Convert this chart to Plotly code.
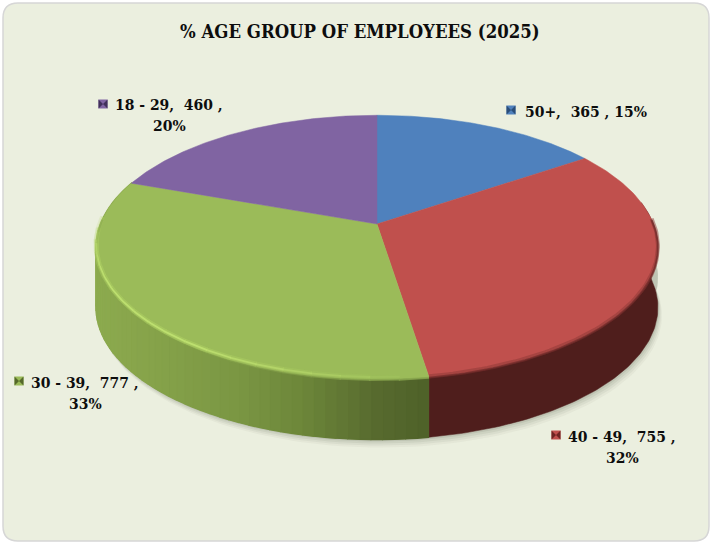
import numpy as np
import plotly.graph_objects as go

TITLE = "% AGE GROUP OF EMPLOYEES (2025)"
categories = ["50+", "40 - 49", "30 - 39", "18 - 29"]
values = [365, 755, 777, 460]
percents = [15, 32, 33, 20]
top_colors = ["#4f81bd", "#c0504d", "#9bbb59", "#8064a2"]
dark_key = ["#2a4d78", "#6e2523", "#55692a", "#41305a"]

# Projection of the tilted disc, in pixels of the axes
CX, CY, RX, A, C, DEPTH = 377.0, 224.0, 276.5, 128.0, 0.177, 60.0


def project(theta, depth=0.0):
    s = np.cos(theta)
    den = 1 + C * s
    return CX + RX * np.sin(theta) / den, CY - A * s / den + depth


total = sum(values)
edges = np.cumsum([0] + values) / total * 2 * np.pi

fig = go.Figure()
fig.add_shape(type="path", layer="below",
              path="M 18 3 L 694 3 Q 709 3 709 18 L 709 526 Q 709 541 694 541 "
                   "L 18 541 Q 3 541 3 526 L 3 18 Q 3 3 18 3 Z",
              fillcolor="#ebefdf", line=dict(color="#d6d6d6", width=1.5))


def poly(xs, ys, fill, line=None, width=0.0):
    fig.add_trace(go.Scatter(x=xs, y=ys, mode="lines", fill="toself", fillcolor=fill,
                             line=dict(color=line or fill, width=width),
                             hoverinfo="skip", showlegend=False))


def stroke(xs, ys, color, width):
    fig.add_trace(go.Scatter(x=xs, y=ys, mode="lines", line=dict(color=color, width=width),
                             hoverinfo="skip", showlegend=False))


# soft shadow under the wall
arc = np.linspace(np.radians(80), np.radians(285), 120)
for off, alpha in [(8, 0.05), (6, 0.07), (4, 0.09), (2, 0.12)]:
    xb, yb = project(arc, DEPTH)
    xt, yt = project(arc[::-1], DEPTH - 30)
    poly(np.r_[xb + off * 0.5, xt], np.r_[yb + off, yt], "rgba(90,100,80,%.2f)" % alpha)

# side wall
wall_a, wall_b = np.radians(80), np.radians(290)
th = np.linspace(wall_a, edges[2], 100)
xa, ya = project(th)
xb, yb = project(th[::-1], DEPTH)
poly(np.r_[xa, xb], np.r_[ya, yb], "#4f1e1c", "#4f1e1c", 0.5)

shade_x = [90, 150, 240, 300, 380, 430]
shade_g = [(141, 171, 79), (134, 163, 74), (122, 150, 67), (109, 135, 58), (86, 105, 46), (78, 97, 40)]
th = np.linspace(edges[2], wall_b, 100)
xa, ya = project(th)
xb, yb = project(th[::-1], DEPTH)
poly(np.r_[xa, xb], np.r_[ya, yb], "#7a9643", "#7a9643", 0.5)
n = 60
th = np.linspace(edges[2], wall_b, n + 1)
for i in range(n):
    tt = np.linspace(th[i], th[i + 1], 3)
    xa, ya = project(tt)
    xb, yb = project(tt[::-1], DEPTH)
    mx = float(xa[1])
    c = "rgb(%d,%d,%d)" % tuple(round(np.interp(mx, shade_x, [g[j] for g in shade_g])) for j in range(3))
    poly(np.r_[xa, xb], np.r_[ya, yb], c, c, 1.5)

# top face
for k, color in enumerate(top_colors):
    th = np.linspace(edges[k], edges[k + 1], 120)
    xs, ys = project(th)
    poly(np.r_[CX, xs, CX], np.r_[CY, ys, CY], color, color, 0.5)

# bevel highlights along the front of the rim, fading towards both ends
a0, a1 = edges[2], np.radians(272)
segs = np.linspace(a0, a1, 21)
for i in range(20):
    th = np.linspace(segs[i], segs[i + 1] + 0.003, 6)
    xs, ys = project(th)
    fade = min(1.0, i / 8, (20 - i) / 3)
    stroke(xs, ys - 2.5, "rgba(176,210,100,%.2f)" % (0.5 * fade), 5)
    stroke(xs, ys - 2.5, "rgba(190,224,112,%.2f)" % (0.95 * fade), 1.8)
    stroke(xs, ys + 0.5, "rgba(140,170,80,%.2f)" % (0.6 * (1 - fade) + 0.2), 2)
th = np.linspace(np.radians(88), edges[2], 80)
xs, ys = project(th)
stroke(xs, ys - 1, "rgba(140,56,54,0.5)", 4)
stroke(xs, ys + 0.5, "rgba(110,42,40,0.7)", 2)

# data labels
line_at = [[(586, 111)], [(622, 436), (622, 457)], [(85, 382), (85, 403)], [(169, 104), (169, 125)]]
key_at = [(511, 110), (556, 435), (19, 381), (103, 104)]
FONT = "DejaVu Serif Condensed, DejaVu Serif"
LABEL_SIZE = 15.5
for k, cat in enumerate(categories):
    fig.add_trace(go.Scatter(x=[key_at[k][0]], y=[key_at[k][1]], mode="markers",
                             marker=dict(symbol="square", size=9, color=top_colors[k]),
                             hoverinfo="skip", showlegend=False))
    fig.add_trace(go.Scatter(x=[key_at[k][0]], y=[key_at[k][1]], mode="markers",
                             marker=dict(symbol="bowtie", size=9, color=dark_key[k]),
                             hoverinfo="skip", showlegend=False))
    head = f"{cat},&nbsp; {values[k]} ,"
    tail = f"{percents[k]}%"
    lines = [f"{head} {tail}"] if k == 0 else [head, tail]
    for (lx, ly), text in zip(line_at[k], lines):
        fig.add_annotation(x=lx, y=ly, text=text, showarrow=False,
                           xanchor="center", yanchor="middle", align="center",
                           font=dict(family=FONT, size=LABEL_SIZE, color="#0d0d0d", weight="bold"))

fig.add_annotation(x=360, y=31, text=TITLE, showarrow=False, xanchor="center", yanchor="middle",
                   font=dict(family=FONT, size=18.4, color="#0d0d0d", weight="bold"))

fig.update_layout(width=711, height=542, margin=dict(l=0, r=0, t=0, b=0),
                  paper_bgcolor="white", plot_bgcolor="rgba(0,0,0,0)", showlegend=False,
                  xaxis=dict(range=[0, 711], visible=False, fixedrange=True),
                  yaxis=dict(range=[542, 0], visible=False, fixedrange=True))
fig.write_html("out.html", config=dict(displayModeBar=False),
               post_script="document.body.style.margin='0';document.body.style.overflow='hidden';")
